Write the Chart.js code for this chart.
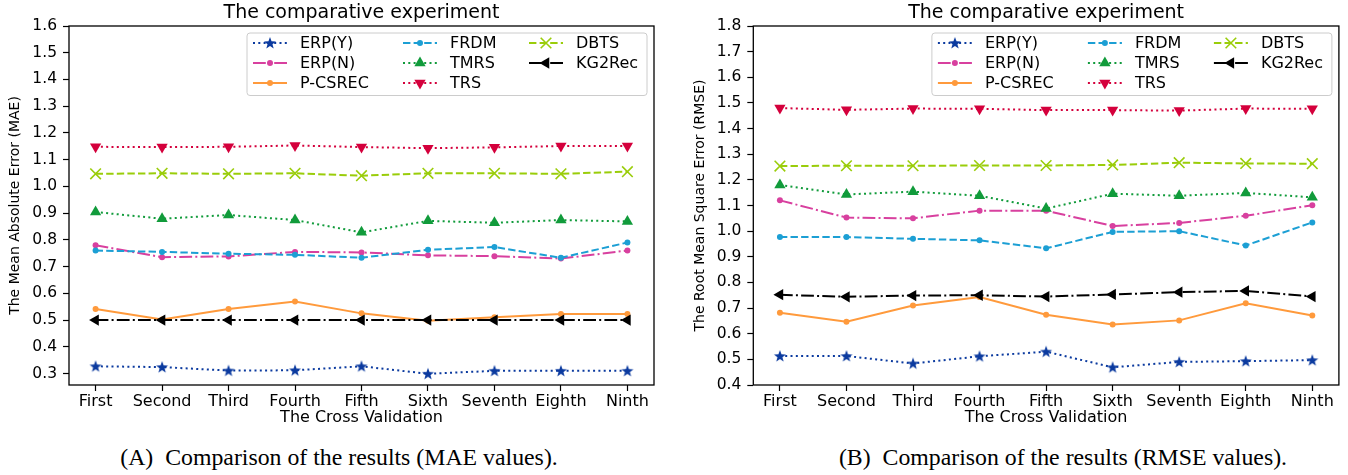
<!DOCTYPE html>
<html><head><meta charset="utf-8">
<script src="https://cdn.jsdelivr.net/npm/chart.js@4.4.1/dist/chart.umd.min.js"></script>
<style>
html,body{margin:0;padding:0;background:#fff;width:1348px;height:475px;overflow:hidden;}
#c1{position:absolute;left:0;top:0;}
#c2{position:absolute;left:670px;top:0;}
.cap{position:absolute;top:444px;font-family:"Liberation Serif","Times New Roman",serif;font-size:23.8px;line-height:27px;white-space:pre;color:#000;transform:translateX(-50%);}
</style></head><body>
<canvas id="c1" width="670" height="432"></canvas>
<canvas id="c2" width="678" height="432"></canvas>
<div class="cap" style="left:339px">(A)  Comparison of the results (MAE values).</div>
<div class="cap" style="left:1063px">(B)  Comparison of the results (RMSE values).</div>
<script>
// ---------------- data ----------------
const categories = ['First','Second','Third','Fourth','Fifth','Sixth','Seventh','Eighth','Ninth'];
const seriesNames = ['ERP(Y)','ERP(N)','P-CSREC','FRDM','TMRS','TRS','DBTS','KG2Rec'];

const maeERPY   = [0.327,0.324,0.311,0.312,0.327,0.299,0.310,0.310,0.310];
const maeERPN   = [0.780,0.735,0.738,0.755,0.753,0.742,0.739,0.730,0.760];
const maePCSREC = [0.541,0.502,0.541,0.569,0.525,0.497,0.510,0.523,0.523];
const maeFRDM   = [0.760,0.755,0.748,0.744,0.733,0.763,0.773,0.733,0.790];
const maeTMRS   = [0.904,0.879,0.893,0.874,0.828,0.871,0.864,0.874,0.869];
const maeTRS    = [1.148,1.147,1.148,1.153,1.147,1.143,1.146,1.151,1.151];
const maeDBTS   = [1.047,1.049,1.047,1.049,1.040,1.049,1.049,1.047,1.055];
const maeKG2Rec = [0.500,0.500,0.500,0.500,0.500,0.500,0.500,0.500,0.500];

const rmseERPY   = [0.513,0.513,0.484,0.512,0.530,0.469,0.490,0.493,0.497];
const rmseERPN   = [1.120,1.053,1.050,1.080,1.080,1.020,1.032,1.060,1.101];
const rmsePCSREC = [0.682,0.647,0.710,0.743,0.674,0.636,0.652,0.719,0.671];
const rmseFRDM   = [0.977,0.977,0.970,0.964,0.933,0.997,1.000,0.944,1.034];
const rmseTMRS   = [1.180,1.143,1.154,1.138,1.088,1.146,1.138,1.149,1.132];
const rmseTRS    = [1.480,1.473,1.478,1.477,1.472,1.472,1.470,1.478,1.477];
const rmseDBTS   = [1.254,1.255,1.255,1.256,1.256,1.258,1.267,1.264,1.263];
const rmseKG2Rec = [0.752,0.744,0.749,0.750,0.745,0.753,0.762,0.767,0.745];

const maeTicks  = [0.3,0.4,0.5,0.6,0.7,0.8,0.9,1.0,1.1,1.2,1.3,1.4,1.5,1.6];
const rmseTicks = [0.4,0.5,0.6,0.7,0.8,0.9,1.0,1.1,1.2,1.3,1.4,1.5,1.6,1.7,1.8];

// ---------------- styles ----------------
const FONT = "'DejaVu Sans', sans-serif";
const DOT = [2,3.3], DASH = [7.4,3.2], DASHDOT = [12.8,3.2,2,3.2];
const seriesStyles = [
  {color:'#0b3a9f', dash:DOT,     marker:'star'},
  {color:'#d8409f', dash:DASHDOT, marker:'circle',   r:3},
  {color:'#ff9a3c', dash:[],      marker:'circle',   r:3},
  {color:'#1c9fd4', dash:DASH,    marker:'circle',   r:3},
  {color:'#119b3b', dash:DOT,     marker:'triangle', r:6.5, rot:0},
  {color:'#d4003c', dash:DOT,     marker:'triangle', r:6.5, rot:180},
  {color:'#9acd0a', dash:DASH,    marker:'crossRot', r:7.5, bw:1.6},
  {color:'#000000', dash:DASHDOT, marker:'triangle', r:6.5, rot:270}
];

function starImage(color){
  const c = document.createElement('canvas');
  c.width = 14; c.height = 14;
  const g = c.getContext('2d');
  g.fillStyle = color;
  g.beginPath();
  const R = 6.3, r = 2.6;
  for (let k = 0; k < 10; k++) {
    const ang = -Math.PI/2 + k*Math.PI/5;
    const rad = (k % 2 === 0) ? R : r;
    const px = 7 + Math.cos(ang)*rad, py = 7.4 + Math.sin(ang)*rad;
    if (k === 0) g.moveTo(px, py); else g.lineTo(px, py);
  }
  g.closePath(); g.fill();
  return c;
}

function buildDatasets(values){
  return seriesNames.map((name,i)=>{
    const st = seriesStyles[i];
    return {
      label: name,
      data: values[i].map((v,j)=>({x:j, y:v})),
      borderColor: st.color,
      backgroundColor: st.color,
      borderWidth: 2,
      borderDash: st.dash,
      pointStyle: st.marker === 'star' ? starImage(st.color) : st.marker,
      pointRadius: st.r || 6,
      pointRotation: st.rot || 0,
      pointBackgroundColor: st.color,
      pointBorderColor: st.color,
      pointBorderWidth: st.bw || 0,
      tension: 0,
      fill: false,
      clip: false,
      order: seriesNames.length - i
    };
  });
}

// frame (matplotlib spines)
const framePlugin = {
  id: 'frame',
  afterDatasetsDraw(chart){
    const {ctx, chartArea:a} = chart;
    ctx.save();
    ctx.strokeStyle = '#000'; ctx.lineWidth = 1.3; ctx.setLineDash([]);
    ctx.strokeRect(a.left, a.top, a.right - a.left, a.bottom - a.top);
    ctx.restore();
  }
};

// matplotlib-like legend, 3 columns, column-major
const legendPlugin = {
  id: 'mplLegend',
  afterDraw(chart){
    const {ctx, chartArea:a} = chart;
    const w = 400, h = 62.5;
    const x0 = a.right - 7 - w, y0 = a.top + 7;
    const colOff = [0, 150, 276];
    ctx.save();
    ctx.beginPath();
    if (ctx.roundRect) ctx.roundRect(x0, y0, w, h, 3); else ctx.rect(x0, y0, w, h);
    ctx.fillStyle = 'rgba(255,255,255,0.85)'; ctx.fill();
    ctx.strokeStyle = '#cccccc'; ctx.lineWidth = 1; ctx.stroke();
    chart.data.datasets.forEach((ds,i)=>{
      const col = Math.floor(i/3), row = i % 3;
      const cx = x0 + colOff[col], cy = y0 + 10 + 20*row;
      ctx.save();
      ctx.strokeStyle = ds.borderColor; ctx.lineWidth = ds.borderWidth;
      ctx.setLineDash(ds.borderDash || []);
      ctx.beginPath(); ctx.moveTo(cx + 6, cy); ctx.lineTo(cx + 40, cy); ctx.stroke();
      ctx.setLineDash([]);
      ctx.fillStyle = ds.pointBackgroundColor; ctx.strokeStyle = ds.pointBorderColor;
      ctx.lineWidth = ds.pointBorderWidth;
      if (Chart.helpers && Chart.helpers.drawPoint) {
        Chart.helpers.drawPoint(ctx, {pointStyle: ds.pointStyle, rotation: ds.pointRotation, radius: ds.pointRadius, borderWidth: ds.pointBorderWidth}, cx + 23, cy);
      }
      ctx.restore();
      ctx.fillStyle = '#000'; ctx.font = '16px ' + FONT;
      ctx.textBaseline = 'middle'; ctx.textAlign = 'left';
      ctx.fillText(ds.label, cx + 53, cy + 1);
    });
    ctx.restore();
  }
};

function makeChart(id, values, yTicks, yMin, yMax, yTitle, cfg){
  return new Chart(document.getElementById(id), {
    type: 'line',
    data: { datasets: buildDatasets(values) },
    options: {
      responsive: false, animation: false, events: [],
      layout: { padding: { left: 0, right: cfg.padRight, top: 0, bottom: 0 } },
      plugins: {
        legend: { display: false },
        tooltip: { enabled: false },
        title: {
          display: true, text: 'The comparative experiment', fullSize: false,
          color: '#000', font: { family: FONT, size: 19, weight: 'normal' },
          padding: { top: 1.3, bottom: 1.9 }
        }
      },
      scales: {
        x: {
          type: 'linear', min: -0.4, max: 8.4, bounds: 'data',
          afterBuildTicks: s => { s.ticks = categories.map((c,i)=>({value:i})); },
          afterFit: s => { s.height = 47; },
          ticks: {
            callback: v => categories[Math.round(v)],
            color: '#000', font: { family: FONT, size: 16 }, padding: 1,
            maxRotation: 0, autoSkip: false
          },
          grid: { display: true, drawOnChartArea: false, drawTicks: true, tickLength: 6, color: '#000', tickColor: '#000', tickWidth: 1.2 },
          border: { display: false },
          title: { display: true, text: 'The Cross Validation', color: '#000', font: { family: FONT, size: 16 }, padding: { top: 0, bottom: 4.4 } }
        },
        y: {
          type: 'linear', min: yMin, max: yMax, bounds: 'data',
          afterBuildTicks: s => { s.ticks = yTicks.map(v=>({value:v})); },
          afterFit: s => { s.width = cfg.yWidth; },
          ticks: { callback: v => Number(v).toFixed(1), color: '#000', font: { family: FONT, size: 15.5 }, padding: 6 },
          grid: { display: true, drawOnChartArea: false, drawTicks: true, tickLength: 6, color: '#000', tickColor: '#000', tickWidth: 1.2 },
          border: { display: false },
          title: { display: true, text: yTitle, color: '#000', font: { family: FONT, size: 14 }, padding: { top: cfg.yTitlePad, bottom: 0 } }
        }
      }
    },
    plugins: [framePlugin, legendPlugin]
  });
}

makeChart('c1',
  [maeERPY, maeERPN, maePCSREC, maeFRDM, maeTMRS, maeTRS, maeDBTS, maeKG2Rec],
  maeTicks, 0.257, 1.6, 'The Mean Absolute Error (MAE)',
  { padRight: 16, yWidth: 69, yTitlePad: 6.6 });

makeChart('c2',
  [rmseERPY, rmseERPN, rmsePCSREC, rmseFRDM, rmseTMRS, rmseTRS, rmseDBTS, rmseKG2Rec],
  rmseTicks, 0.4, 1.8, 'The Root Mean Square Error (RMSE)',
  { padRight: 9, yWidth: 83.3, yTitlePad: 21.9 });
</script>
</body></html>
